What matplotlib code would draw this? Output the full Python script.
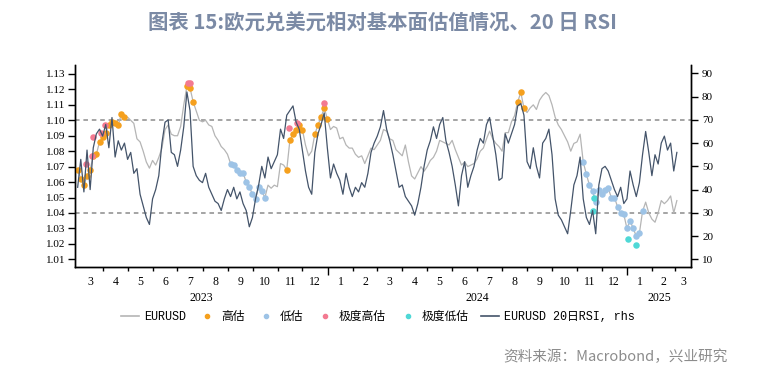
import matplotlib
matplotlib.use('Agg')
import matplotlib.pyplot as plt
import matplotlib.dates as mdates
import matplotlib.transforms as mtransforms
from matplotlib.lines import Line2D
import pandas as pd

plt.rcParams['font.family'] = ['Noto Sans CJK SC', 'DejaVu Sans']

# EURUSD spot, 8 readings a month from Mar 2023 to Feb 2025, plus early Mar 2025
eurusd = [
    1.068, 1.062, 1.058, 1.064, 1.068, 1.077, 1.078, 1.086,  # 2023-03
    1.089, 1.092, 1.097, 1.099, 1.098, 1.097, 1.104, 1.102,  # 04
    1.102, 1.100, 1.098, 1.088, 1.086, 1.080, 1.073, 1.069,  # 05
    1.074, 1.071, 1.076, 1.082, 1.094, 1.097, 1.091, 1.090,  # 06
    1.090, 1.096, 1.110, 1.122, 1.121, 1.112, 1.106, 1.100,  # 07
    1.099, 1.100, 1.097, 1.096, 1.090, 1.087, 1.083, 1.081,  # 08
    1.078, 1.072, 1.071, 1.068, 1.066, 1.066, 1.060, 1.057,  # 09
    1.052, 1.049, 1.057, 1.054, 1.050, 1.058, 1.056, 1.058,  # 10
    1.057, 1.072, 1.071, 1.068, 1.087, 1.091, 1.094, 1.097,  # 11
    1.094, 1.084, 1.077, 1.080, 1.091, 1.097, 1.102, 1.108,  # 12
    1.101, 1.094, 1.096, 1.095, 1.088, 1.089, 1.084, 1.082,  # 2024-01
    1.082, 1.078, 1.076, 1.077, 1.072, 1.077, 1.082, 1.081,  # 02
    1.084, 1.087, 1.094, 1.093, 1.088, 1.087, 1.081, 1.079,  # 03
    1.077, 1.084, 1.073, 1.064, 1.062, 1.066, 1.070, 1.067,  # 04
    1.070, 1.074, 1.076, 1.080, 1.087, 1.086, 1.085, 1.084,  # 05
    1.087, 1.081, 1.076, 1.071, 1.073, 1.070, 1.071, 1.072,  # 06
    1.075, 1.080, 1.082, 1.088, 1.093, 1.088, 1.085, 1.083,  # 07
    1.080, 1.092, 1.092, 1.099, 1.103, 1.112, 1.118, 1.108,  # 08
    1.105, 1.108, 1.110, 1.107, 1.113, 1.116, 1.118, 1.116,  # 09
    1.110, 1.102, 1.097, 1.094, 1.090, 1.086, 1.080, 1.085,  # 10
    1.086, 1.091, 1.073, 1.065, 1.058, 1.054, 1.047, 1.055,  # 11
    1.052, 1.055, 1.056, 1.050, 1.050, 1.044, 1.040, 1.039,  # 12
    1.030, 1.035, 1.030, 1.025, 1.027, 1.041, 1.047, 1.040,  # 2025-01
    1.036, 1.034, 1.040, 1.048, 1.046, 1.048, 1.051, 1.040,  # 02
    1.048,
]

# 20-day RSI, same dates
rsi = [
    41, 53, 39, 57, 40, 58, 64, 66,
    63, 68, 58, 71, 54, 61, 57, 60,
    53, 56, 47, 49, 38, 33, 28, 25,
    36, 40, 46, 60, 69, 70, 56, 55,
    50, 57, 67, 82, 74, 50, 46, 44,
    43, 47, 41, 38, 35, 34, 31, 36,
    40, 37, 41, 36, 39, 34, 31, 24,
    28, 36, 42, 50, 45, 54, 49, 52,
    55, 66, 62, 72, 74, 76, 69, 66,
    57, 48, 41, 38, 56, 64, 68, 73,
    58, 45, 51, 47, 44, 38, 47, 41,
    37, 41, 39, 43, 41, 47, 56, 60,
    63, 67, 74, 66, 61, 55, 48, 41,
    42, 37, 35, 33, 29, 34, 41, 50,
    57, 61, 67, 62, 68, 71, 61, 56,
    50, 42, 33, 46, 52, 41, 46, 50,
    57, 62, 60, 68, 71, 63, 55, 44,
    45, 64, 60, 64, 68, 76, 77, 72,
    52, 49, 58, 50, 45, 60, 62, 66,
    55, 36, 29, 27, 24, 21, 31, 42,
    46, 54, 36, 28, 25, 31, 21, 42,
    49, 50, 48, 44, 40, 37, 41, 34,
    36, 48, 42, 37, 43, 55, 65, 56,
    46, 55, 51, 60, 63, 57, 60, 48,
    56,
]

start_date, end_date = '2023-03-01', '2025-03-03'

# valuation periods (dots drawn on the EURUSD line)
high_periods = [('2023-03-01', '2023-04-30'), ('2023-07-10', '2023-07-21'),
                ('2023-11-10', '2023-11-30'), ('2023-12-13', '2023-12-31'),
                ('2024-08-19', '2024-08-28')]
low_periods = [('2023-09-01', '2023-10-17'), ('2024-11-07', '2025-01-21')]

xhigh_dates = ['2023-03-11', '2023-03-18', '2023-03-20', '2023-03-30', '2023-04-03',
               '2023-07-14', '2023-07-17', '2023-11-15', '2023-11-24', '2023-12-27']
xhigh_vals = [1.072, 1.077, 1.089, 1.092, 1.097, 1.124, 1.124, 1.095, 1.098, 1.111]
xlow_dates = ['2024-11-21', '2024-11-22', '2025-01-02', '2025-01-12']
xlow_vals = [1.041, 1.0495, 1.023, 1.019]

title = '图表 15:欧元兑美元相对基本面估值情况、20 日 RSI'
source = '资料来源：Macrobond，兴业研究'

c_gray = '#b5b5b5'
c_navy = '#44546a'
c_high = '#f5a01e'
c_low = '#9dc3e6'
c_xhigh = '#f37a91'
c_xlow = '#4fd8d6'

dates = pd.date_range(start_date, end_date, periods=len(eurusd))
eur = pd.Series(eurusd, index=dates)

fig = plt.figure(figsize=(7.68, 3.76), dpi=100)
ax = fig.add_axes([75 / 768, 109 / 376, 616 / 768, 202 / 376])
ax2 = ax.twinx()

ax.plot(dates, eurusd, color=c_gray, lw=0.9, zorder=2)
for a, b in high_periods:
    s = eur[a:b]
    ax.scatter(s.index, s.values, s=22, color=c_high, lw=0, zorder=3)
for a, b in low_periods:
    s = eur[a:b]
    ax.scatter(s.index, s.values, s=22, color=c_low, lw=0, zorder=3)
ax.scatter(pd.to_datetime(xhigh_dates), xhigh_vals, s=22, color=c_xhigh, lw=0, zorder=4)
ax.scatter(pd.to_datetime(xlow_dates), xlow_vals, s=22, color=c_xlow, lw=0, zorder=4)

ax.axhline(1.10, color='#8c8c8c', ls=(0, (3, 2.5)), lw=1.1, zorder=1)
ax.axhline(1.04, color='#8c8c8c', ls=(0, (3, 2.5)), lw=1.1, zorder=1)

ax2.plot(dates, rsi, color=c_navy, lw=0.9)

# axes ranges
xmin = pd.Timestamp('2023-02-25 18:00')
xmax = pd.Timestamp('2025-03-20 07:00')
ax.set_xlim(xmin, xmax)
ax.set_ylim(1.005, 1.1358)
ax2.set_ylim(6.7, 93.6)

ax.set_yticks([1.01 + 0.01 * i for i in range(13)])
ax.set_yticklabels(['%.2f' % (1.01 + 0.01 * i) for i in range(13)])
ax2.set_yticks(range(10, 100, 10))

for a in (ax, ax2):
    a.spines['top'].set_visible(False)
    for sp in a.spines.values():
        sp.set_linewidth(1.0)
ax.tick_params(axis='y', length=5, width=1, pad=2, labelsize=8)
ax2.tick_params(axis='y', length=5, width=1, pad=3, labelsize=8)
for t in ax.get_yticklabels() + ax2.get_yticklabels():
    t.set_fontfamily('Liberation Serif')

# month ticks (minor) and year ticks (major)
month_starts = pd.date_range('2023-04-01', '2025-03-01', freq='MS')
year_starts = [pd.Timestamp('2024-01-01'), pd.Timestamp('2025-01-01')]
ax.set_xticks(year_starts)
ax.set_xticks(month_starts, minor=True)
ax.set_xticklabels([])
ax.tick_params(axis='x', which='major', length=6, width=1)
ax.tick_params(axis='x', which='minor', length=3, width=1)

trans = mtransforms.blended_transform_factory(ax.transData, ax.transAxes)
xmin_n, xmax_n = mdates.date2num(xmin), mdates.date2num(xmax)
for m in pd.date_range('2023-03-01', '2025-03-01', freq='MS'):
    lo = max(mdates.date2num(m), xmin_n)
    hi = min(mdates.date2num(m + pd.offsets.MonthBegin(1)), xmax_n)
    ax.text((lo + hi) / 2, -0.074, str(m.month), transform=trans, ha='center', va='center',
            fontsize=8.5, family='Liberation Serif')
for y in (2023, 2024, 2025):
    lo = max(mdates.date2num(pd.Timestamp(f'{y}-01-01')), xmin_n)
    hi = min(mdates.date2num(pd.Timestamp(f'{y + 1}-01-01')), xmax_n)
    ax.text((lo + hi) / 2, -0.153, str(y), transform=trans, ha='center', va='center',
            fontsize=8.5, family='Liberation Serif')

handles = [
    Line2D([], [], color=c_gray, lw=1.2),
    Line2D([], [], color=c_high, marker='o', ls='none', ms=3),
    Line2D([], [], color=c_low, marker='o', ls='none', ms=3),
    Line2D([], [], color=c_xhigh, marker='o', ls='none', ms=3),
    Line2D([], [], color=c_xlow, marker='o', ls='none', ms=3),
    Line2D([], [], color=c_navy, lw=1.2),
]
labels = ['EURUSD', '高估', '低估', '极度高估', '极度低估', 'EURUSD 20日RSI, rhs']
fig.legend(handles, labels, loc='center', bbox_to_anchor=(0.492, 0.157), ncol=6,
           frameon=False, handlelength=1.5, handletextpad=0.4, columnspacing=1.1,
           prop={'family': ['Liberation Mono', 'Noto Sans CJK SC'], 'size': 8.5})

fig.text(382 / 768, 1 - 23 / 376, title, ha='center', va='center', fontsize=14.7,
         fontweight='bold', color='#7b8aa5')
fig.text(728 / 768, 1 - 357 / 376, source, ha='right', va='center', fontsize=10.5,
         color='#8c8c8c')

fig.savefig('out.png', dpi=100)
